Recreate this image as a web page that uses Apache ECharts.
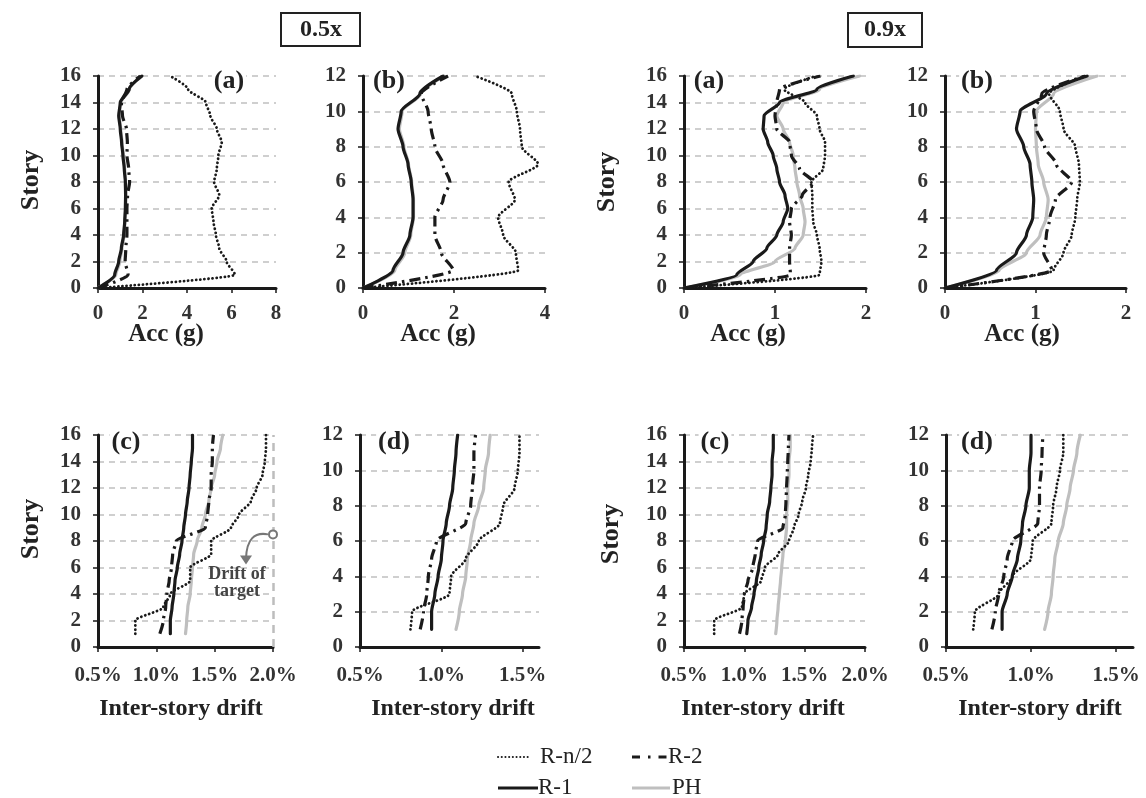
<!DOCTYPE html>
<html>
<head>
<meta charset="utf-8">
<script src="https://cdn.jsdelivr.net/npm/echarts@6/dist/echarts.min.js"></script>
<style>
  html, body { margin: 0; padding: 0; background: #fff; }
  #chart { width: 1146px; height: 798px; }
</style>
</head>
<body>
<div id="chart"></div>
<script>
// ---- stories ----
const STORY16 = [0,1,2,3,4,5,6,7,8,9,10,11,12,13,14,15,16];
const STORY12 = [0,1,2,3,4,5,6,7,8,9,10,11,12];
const DSTORY16 = [1,2,3,4,5,6,7,8,9,10,11,12,13,14,15,16];
const DSTORY12 = [1,2,3,4,5,6,7,8,9,10,11,12];

// ---- floor accelerations (g), 0.5x ----
const acc05a_Rn2 = [0, 6.15, 5.78, 5.45, 5.3, 5.19, 5.11, 5.45, 5.22, 5.34, 5.41, 5.56, 5.34, 5.05, 4.85, 4.05, 3.24];
const acc05a_R2  = [0, 1.35, 1.22, 1.25, 1.3, 1.3, 1.3, 1.33, 1.42, 1.38, 1.3, 1.32, 1.28, 1.1, 1.05, 1.3, 1.9];
const acc05a_R1  = [0, 0.75, 0.93, 1.05, 1.15, 1.2, 1.23, 1.24, 1.23, 1.18, 1.12, 1.06, 1.0, 0.93, 1.0, 1.4, 1.97];
const acc05a_PH  = [0, 0.8, 0.98, 1.08, 1.17, 1.21, 1.24, 1.25, 1.24, 1.2, 1.14, 1.08, 1.02, 0.96, 1.02, 1.42, 1.98];

const acc05b_Rn2 = [0, 3.41, 3.36, 3.08, 2.97, 3.34, 3.2, 3.85, 3.49, 3.45, 3.38, 3.27, 2.46];
const acc05b_R2  = [0, 1.98, 1.72, 1.58, 1.58, 1.76, 1.91, 1.76, 1.58, 1.5, 1.43, 1.28, 1.87];
const acc05b_R1  = [0, 0.66, 0.88, 1.03, 1.1, 1.1, 1.06, 0.99, 0.88, 0.77, 0.84, 1.25, 1.76];
const acc05b_PH  = [0, 0.7, 0.92, 1.05, 1.11, 1.11, 1.07, 1.0, 0.9, 0.8, 0.86, 1.27, 1.78];

// ---- floor accelerations (g), 0.9x ----
const acc09a_Rn2 = [0, 1.49, 1.51, 1.49, 1.46, 1.42, 1.41, 1.41, 1.40, 1.53, 1.55, 1.55, 1.49, 1.46, 1.33, 1.1, 1.45];
const acc09a_R2  = [0, 1.17, 1.16, 1.16, 1.18, 1.16, 1.18, 1.3, 1.42, 1.27, 1.18, 1.16, 1.02, 1.0, 1.02, 1.05, 1.5];
const acc09a_R1  = [0, 0.58, 0.76, 0.91, 1.02, 1.09, 1.14, 1.11, 1.05, 1.02, 0.98, 0.92, 0.87, 0.88, 1.05, 1.46, 1.86];
const acc09a_PH  = [0, 0.62, 1.0, 1.22, 1.31, 1.33, 1.31, 1.27, 1.24, 1.22, 1.2, 1.16, 1.09, 1.02, 1.09, 1.49, 1.93];

const acc09b_Rn2 = [0, 1.2, 1.31, 1.4, 1.44, 1.46, 1.49, 1.48, 1.44, 1.31, 1.27, 1.15, 1.55];
const acc09b_R2  = [0, 1.18, 1.09, 1.12, 1.16, 1.22, 1.4, 1.23, 1.1, 1.01, 0.98, 1.07, 1.55];
const acc09b_R1  = [0, 0.57, 0.79, 0.9, 0.97, 0.98, 0.96, 0.94, 0.87, 0.79, 0.83, 1.12, 1.57];
const acc09b_PH  = [0, 0.6, 0.9, 1.05, 1.12, 1.14, 1.09, 1.03, 1.01, 1.0, 1.01, 1.2, 1.68];

// ---- inter-story drift (%), 0.5x ----
const d05c_Rn2 = [0.82, 0.82, 1.06, 1.12, 1.29, 1.29, 1.47, 1.47, 1.64, 1.71, 1.81, 1.86, 1.91, 1.93, 1.94, 1.94];
const d05c_R2  = [1.03, 1.06, 1.08, 1.09, 1.11, 1.13, 1.14, 1.17, 1.42, 1.44, 1.45, 1.47, 1.47, 1.48, 1.48, 1.49];
const d05c_R1  = [1.12, 1.12, 1.135, 1.15, 1.16, 1.18, 1.2, 1.22, 1.235, 1.25, 1.265, 1.28, 1.29, 1.3, 1.31, 1.31];
const d05c_PH  = [1.25, 1.26, 1.27, 1.29, 1.3, 1.31, 1.32, 1.35, 1.39, 1.42, 1.45, 1.47, 1.5, 1.52, 1.55, 1.57];

const d05d_Rn2 = [0.81, 0.82, 1.05, 1.06, 1.15, 1.23, 1.36, 1.38, 1.45, 1.47, 1.48, 1.48];
const d05d_R2  = [0.87, 0.89, 0.91, 0.92, 0.94, 0.97, 1.15, 1.18, 1.19, 1.2, 1.2, 1.21];
const d05d_R1  = [0.94, 0.94, 0.96, 0.98, 1.0, 1.01, 1.03, 1.05, 1.07, 1.08, 1.09, 1.1];
const d05d_PH  = [1.09, 1.11, 1.13, 1.15, 1.16, 1.18, 1.2, 1.23, 1.26, 1.27, 1.29, 1.3];

// ---- inter-story drift (%), 0.9x ----
const d09c_Rn2 = [0.75, 0.75, 0.98, 1.0, 1.14, 1.17, 1.28, 1.37, 1.41, 1.45, 1.48, 1.51, 1.53, 1.55, 1.56, 1.57];
const d09c_R2  = [0.96, 0.98, 0.99, 1.0, 1.03, 1.07, 1.09, 1.11, 1.32, 1.34, 1.345, 1.35, 1.355, 1.36, 1.365, 1.37];
const d09c_R1  = [1.02, 1.03, 1.06, 1.08, 1.1, 1.12, 1.14, 1.16, 1.18, 1.19, 1.21, 1.22, 1.23, 1.23, 1.24, 1.24];
const d09c_PH  = [1.26, 1.27, 1.28, 1.29, 1.3, 1.31, 1.32, 1.34, 1.35, 1.35, 1.36, 1.36, 1.37, 1.37, 1.38, 1.38];

const d09d_Rn2 = [0.66, 0.67, 0.81, 0.89, 1.0, 1.01, 1.12, 1.13, 1.15, 1.17, 1.19, 1.19];
const d09d_R2  = [0.77, 0.79, 0.81, 0.84, 0.86, 0.89, 1.04, 1.05, 1.05, 1.06, 1.065, 1.07];
const d09d_R1  = [0.83, 0.83, 0.86, 0.89, 0.92, 0.94, 0.95, 0.97, 0.99, 0.99, 1.0, 1.0];
const d09d_PH  = [1.08, 1.1, 1.12, 1.13, 1.14, 1.16, 1.19, 1.21, 1.23, 1.25, 1.27, 1.29];

// target drift line in panel (c), 0.5x
const TARGET_DRIFT = 2.0;

const SERIF = '"Liberation Serif", "DejaVu Serif", serif';
const INK = '#1a1a1a';

// panel layout: [left, top, width, height]
const panels = [
  { box: [98, 76, 178, 212],  x: [0, 8, 2],       ymax: 16, tag: '(a)', tagX: 229 },
  { box: [363, 76, 182, 212], x: [0, 4, 2],       ymax: 12, tag: '(b)', tagX: 389 },
  { box: [684, 76, 182, 212], x: [0, 2, 1],       ymax: 16, tag: '(a)', tagX: 709 },
  { box: [945, 76, 181, 212], x: [0, 2, 1],       ymax: 12, tag: '(b)', tagX: 977 },
  { box: [98, 435, 175, 212], x: [0.5, 2.0, 0.5], ymax: 16, tag: '(c)', tagX: 126, pct: true },
  { box: [360, 435, 179, 212], x: [0.5, 1.6, 0.5], ymax: 12, tag: '(d)', tagX: 394, pct: true },
  { box: [684, 435, 181, 212], x: [0.5, 2.0, 0.5], ymax: 16, tag: '(c)', tagX: 715, pct: true },
  { box: [946, 435, 187, 212], x: [0.5, 1.6, 0.5], ymax: 12, tag: '(d)', tagX: 977, pct: true }
];

const styles = {
  'R-n/2': { color: INK, width: 2.8, type: [0.1, 4.0], cap: 'round', z: 3 },
  'R-2':   { color: INK, width: 3.2, type: [11, 5, 2.5, 5], cap: 'butt', z: 4 },
  'R-1':   { color: INK, width: 3.2, type: 'solid', cap: 'round', z: 5 },
  'PH':    { color: '#bfbfbf', width: 3.2, type: 'solid', cap: 'round', z: 2 }
};

const grids = [], xAxes = [], yAxes = [], series = [];

panels.forEach((p, i) => {
  grids.push({ left: p.box[0], top: p.box[1], width: p.box[2], height: p.box[3], containLabel: false });
  const ticks = [];
  for (let v = p.x[0]; v <= p.x[1] + 1e-9; v += p.x[2]) ticks.push(+v.toFixed(2));
  xAxes.push({
    type: 'value', gridIndex: i, min: p.x[0], max: p.x[1], interval: p.x[2],
    axisLine: { show: true, onZero: false, lineStyle: { color: INK, width: 3 } },
    axisTick: { show: true, length: 5, inside: false, customValues: ticks, lineStyle: { color: INK, width: 1.5 } },
    axisLabel: {
      customValues: ticks, margin: p.pct ? 18 : 15,
      fontFamily: SERIF, fontSize: 21, fontWeight: 'bold', color: '#333',
      formatter: v => p.pct ? v.toFixed(1) + '%' : String(Math.round(v))
    },
    splitLine: { show: false }
  });
  yAxes.push({
    type: 'value', gridIndex: i, min: 0, max: p.ymax, interval: 2,
    axisLine: { show: true, onZero: false, lineStyle: { color: INK, width: 3 } },
    axisTick: { show: true, length: 5, lineStyle: { color: INK, width: 1.5 } },
    axisLabel: { margin: 17, fontFamily: SERIF, fontSize: 21, fontWeight: 'bold', color: '#333' },
    splitLine: { show: true, lineStyle: { color: '#cfcfcf', width: 2, type: [6, 5] } }
  });
});

function addSeries(gi, name, ys, xs) {
  const s = styles[name];
  series.push({
    name, type: 'line', xAxisIndex: gi, yAxisIndex: gi,
    data: xs.map((x, k) => [x, ys[k]]),
    showSymbol: false, smooth: 0.25, smoothMonotone: 'y',
    z: s.z, silent: true,
    lineStyle: { color: s.color, width: s.width, type: s.type, cap: s.cap, join: 'round' }
  });
}

const sets = [
  [STORY16, acc05a_PH, acc05a_Rn2, acc05a_R2, acc05a_R1],
  [STORY12, acc05b_PH, acc05b_Rn2, acc05b_R2, acc05b_R1],
  [STORY16, acc09a_PH, acc09a_Rn2, acc09a_R2, acc09a_R1],
  [STORY12, acc09b_PH, acc09b_Rn2, acc09b_R2, acc09b_R1],
  [DSTORY16, d05c_PH, d05c_Rn2, d05c_R2, d05c_R1],
  [DSTORY12, d05d_PH, d05d_Rn2, d05d_R2, d05d_R1],
  [DSTORY16, d09c_PH, d09c_Rn2, d09c_R2, d09c_R1],
  [DSTORY12, d09d_PH, d09d_Rn2, d09d_R2, d09d_R1]
];
sets.forEach((set, gi) => {
  const [st, ph, rn2, r2, r1] = set;
  addSeries(gi, 'PH', st, ph);
  addSeries(gi, 'R-n/2', st, rn2);
  addSeries(gi, 'R-2', st, r2);
  addSeries(gi, 'R-1', st, r1);
});

// vertical reference: drift of target
series.push({
  type: 'line', xAxisIndex: 4, yAxisIndex: 4, data: [], silent: true,
  markLine: {
    silent: true, symbol: 'none', label: { show: false },
    lineStyle: { color: '#bdbdbd', width: 2.5, type: [8, 6] },
    data: [{ xAxis: TARGET_DRIFT }]
  }
});

const boldText = (text, x, y, size, extra, styleExtra) => Object.assign({
  type: 'text', x, y, z: 30,
  style: Object.assign({ text, fill: '#222', font: `bold ${size}px ${SERIF}`, align: 'center', verticalAlign: 'middle' }, styleExtra || {})
}, extra || {});

const graphic = [];
// scale boxes
graphic.push({ type: 'rect', shape: { x: 281, y: 13, width: 79, height: 33 }, style: { fill: '#fff', stroke: '#222', lineWidth: 2 } });
graphic.push(boldText('0.5x', 321, 30, 24));
graphic.push({ type: 'rect', shape: { x: 848, y: 13, width: 74, height: 34 }, style: { fill: '#fff', stroke: '#222', lineWidth: 2 } });
graphic.push(boldText('0.9x', 885, 30, 24));

// panel tags (white backing hides the top grid line)
panels.forEach(p => graphic.push(boldText(p.tag, p.tagX, p.box[1] + (p.pct ? 7 : 5), 26, null,
  { backgroundColor: '#fff', padding: [0, 2] })));

// axis titles
[[31, 180], [607, 182], [31, 529], [611, 534]].forEach(([x, y]) =>
  graphic.push(boldText('Story', x, y, 26, { rotation: Math.PI / 2 })));
[166, 438, 748, 1022].forEach(x => graphic.push(boldText('Acc (g)', x, 335, 25)));
[181, 453, 763, 1040].forEach(x => graphic.push(boldText('Inter-story drift', x, 709, 24)));

// legend
const legendItems = [
  { name: 'R-n/2', x1: 498, x2: 530, y: 757, tx: 540 },
  { name: 'R-2',   x1: 632, x2: 667, y: 757, tx: 668 },
  { name: 'R-1',   x1: 498, x2: 538, y: 788, tx: 538 },
  { name: 'PH',    x1: 632, x2: 670, y: 788, tx: 672 }
];
legendItems.forEach(it => {
  const s = styles[it.name];
  let dash = null;
  if (it.name === 'R-n/2') dash = [0.1, 3.6];
  else if (it.name === 'R-2') dash = [8, 8, 2.5, 8];
  graphic.push({
    type: 'line', shape: { x1: it.x1, y1: it.y, x2: it.x2, y2: it.y },
    style: { stroke: s.color, lineWidth: it.name === 'R-n/2' ? 2 : s.width, lineDash: dash, lineCap: it.name === 'R-n/2' ? 'round' : 'butt' }
  });
  graphic.push({
    type: 'text', x: it.tx, y: it.y,
    style: { text: it.name, fill: '#222', font: `23px ${SERIF}`, align: 'left', verticalAlign: 'middle' }
  });
});

const chart = echarts.init(document.getElementById('chart'), null, { renderer: 'canvas' });
chart.setOption({
  animation: false,
  backgroundColor: '#fff',
  grid: grids, xAxis: xAxes, yAxis: yAxes, series, graphic
});

// "Drift of target" note with its pointer, anchored on the target line
const anchor = chart.convertToPixel({ gridIndex: 4 }, [TARGET_DRIFT, 8.5]);
const ax = anchor[0], ay = anchor[1];
const note = [
  { type: 'circle', shape: { cx: ax, cy: ay, r: 4 }, style: { fill: '#fff', stroke: '#777', lineWidth: 2 }, z: 20 },
  { type: 'bezierCurve', shape: { x1: ax - 5, y1: ay, cpx1: ax - 26, cpy1: ay - 4, x2: ax - 27, y2: ay + 24 }, style: { stroke: '#777', lineWidth: 2, fill: null }, z: 20 },
  { type: 'polygon', shape: { points: [[ax - 33, ay + 21], [ax - 21, ay + 21], [ax - 27, ay + 30]] }, style: { fill: '#777' }, z: 20 },
  { type: 'text', x: ax - 36, y: ay + 40, style: { text: 'Drift of', fill: '#444', font: `bold 18px ${SERIF}`, align: 'center', verticalAlign: 'middle' }, z: 20 },
  { type: 'text', x: ax - 36, y: ay + 57, style: { text: 'target', fill: '#444', font: `bold 18px ${SERIF}`, align: 'center', verticalAlign: 'middle' }, z: 20 }
];
chart.setOption({ graphic: graphic.concat(note) });
</script>
</body>
</html>
